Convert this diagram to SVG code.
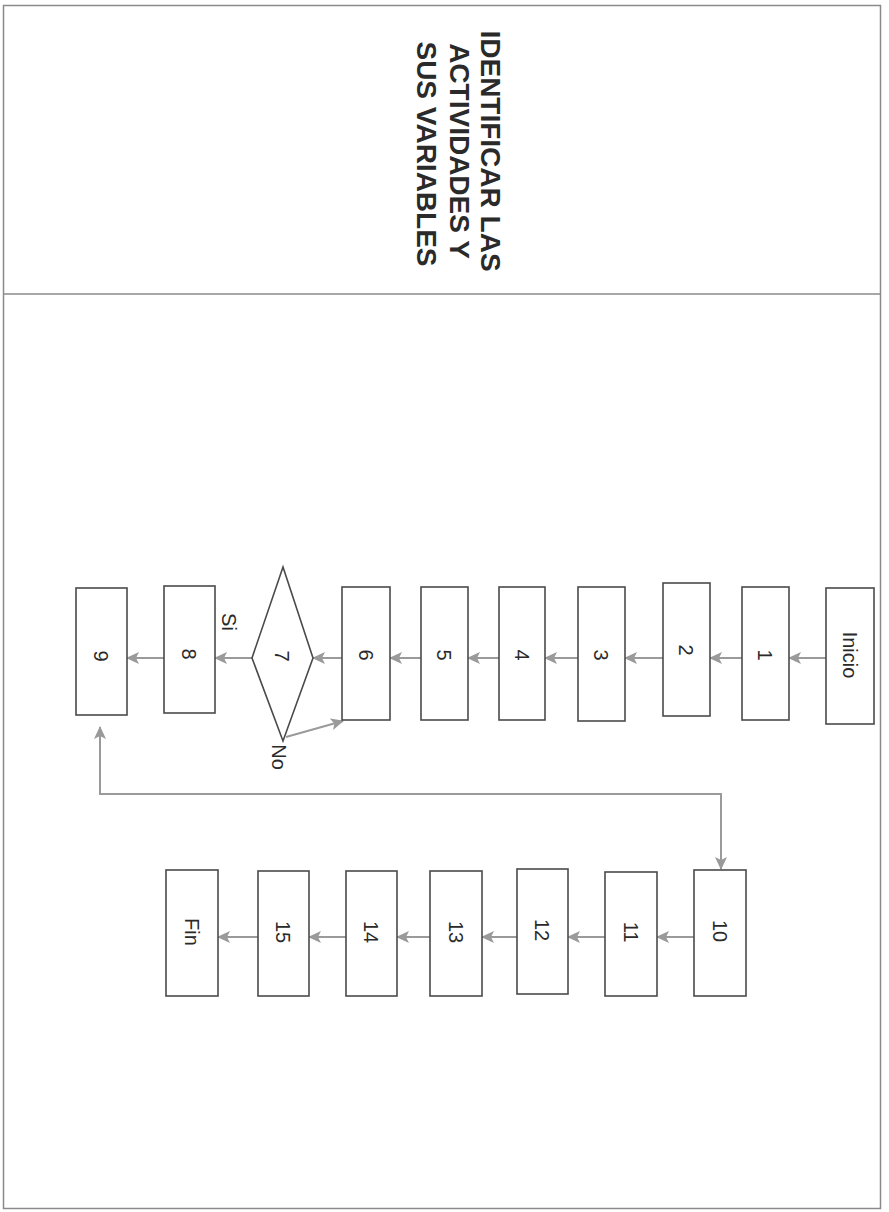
<svg xmlns="http://www.w3.org/2000/svg" width="889" height="1212" viewBox="0 0 889 1212">
<defs>
<marker id="ah" viewBox="0 0 13 12" refX="12" refY="6" markerWidth="13" markerHeight="12" markerUnits="userSpaceOnUse" orient="auto-start-reverse">
<path d="M0,0 L13,6 L0,12 L3,6 Z" fill="#9a9a9a"/>
</marker>
<style>
.frame{fill:none;stroke:#8a8a8a;stroke-width:1.5}
.box{fill:#ffffff;stroke:#4a4a4a;stroke-width:1.6}
.lbl{font-family:"Liberation Sans",Arial,sans-serif;font-size:20px;fill:#2a2a2a;text-anchor:middle;dominant-baseline:central}
.title{font-family:"Liberation Sans",Arial,sans-serif;font-size:28px;font-weight:bold;fill:#2a2a2a;text-anchor:middle}
.con{fill:none;stroke:#9a9a9a;stroke-width:2;marker-end:url(#ah)}
</style>
</defs>
<rect width="889" height="1212" fill="#ffffff"/>
<g id="frame">
<rect class="frame" x="3.5" y="5.5" width="877" height="1203"/>
<line class="frame" x1="3.5" y1="294" x2="880.5" y2="294"/>
</g>
<g id="title">
<text class="title" transform="translate(481,151) rotate(90)">IDENTIFICAR LAS</text>
<text class="title" transform="translate(450,151) rotate(90)">ACTIVIDADES Y</text>
<text class="title" transform="translate(417,154) rotate(90)">SUS VARIABLES</text>
</g>
<g id="connectors">
<line class="con" x1="826" y1="658" x2="789" y2="658"/>
<line class="con" x1="742" y1="658" x2="710" y2="658"/>
<line class="con" x1="663" y1="658" x2="625" y2="658"/>
<line class="con" x1="578" y1="658" x2="545" y2="658"/>
<line class="con" x1="499" y1="658" x2="468" y2="658"/>
<line class="con" x1="421" y1="658" x2="390" y2="658"/>
<line class="con" x1="342" y1="658" x2="313" y2="658"/>
<line class="con" x1="252" y1="658" x2="215" y2="658"/>
<line class="con" x1="164" y1="658" x2="127" y2="658"/>
<line class="con" x1="286" y1="737" x2="343" y2="721"/>
<path class="con" style="marker-start:url(#ah)" d="M100,727 L100,794 L721,794 L721,869"/>
<line class="con" x1="694" y1="937" x2="657" y2="937"/>
<line class="con" x1="605" y1="937" x2="568" y2="937"/>
<line class="con" x1="517" y1="937" x2="482" y2="937"/>
<line class="con" x1="430" y1="937" x2="397" y2="937"/>
<line class="con" x1="346" y1="937" x2="309" y2="937"/>
<line class="con" x1="258" y1="937" x2="218" y2="937"/>
</g>
<g id="n-inicio"><rect class="box" x="826" y="588" width="48" height="136"/><text class="lbl" transform="translate(850,655) rotate(90)">Inicio</text></g>
<g id="n1"><rect class="box" x="742" y="587" width="47" height="133"/><text class="lbl" transform="translate(765,655) rotate(90)">1</text></g>
<g id="n2"><rect class="box" x="663" y="583" width="47" height="133"/><text class="lbl" transform="translate(686,650) rotate(90)">2</text></g>
<g id="n3"><rect class="box" x="578" y="587" width="47" height="134"/><text class="lbl" transform="translate(601,655) rotate(90)">3</text></g>
<g id="n4"><rect class="box" x="499" y="587" width="46" height="133"/><text class="lbl" transform="translate(522,655) rotate(90)">4</text></g>
<g id="n5"><rect class="box" x="421" y="587" width="47" height="133"/><text class="lbl" transform="translate(444,655) rotate(90)">5</text></g>
<g id="n6"><rect class="box" x="342" y="587" width="48" height="133"/><text class="lbl" transform="translate(366,655) rotate(90)">6</text></g>
<g id="n7"><polygon class="box" points="283,567 313,658 283,741 252,658"/><text class="lbl" transform="translate(282,656) rotate(90)">7</text></g>
<g id="n8"><rect class="box" x="164" y="586" width="51" height="127"/><text class="lbl" transform="translate(189,654) rotate(90)">8</text></g>
<g id="n9"><rect class="box" x="76" y="588" width="51" height="127"/><text class="lbl" transform="translate(101,656) rotate(90)">9</text></g>
<g id="lbl-si"><text class="lbl" transform="translate(229,622) rotate(90)">Si</text></g>
<g id="lbl-no"><text class="lbl" transform="translate(279,757) rotate(90)">No</text></g>
<g id="n10"><rect class="box" x="694" y="870" width="52" height="126"/><text class="lbl" transform="translate(720,931) rotate(90)">10</text></g>
<g id="n11"><rect class="box" x="605" y="872" width="52" height="124"/><text class="lbl" transform="translate(631,932) rotate(90)">11</text></g>
<g id="n12"><rect class="box" x="517" y="869" width="51" height="125"/><text class="lbl" transform="translate(542,930) rotate(90)">12</text></g>
<g id="n13"><rect class="box" x="430" y="871" width="52" height="125"/><text class="lbl" transform="translate(456,932) rotate(90)">13</text></g>
<g id="n14"><rect class="box" x="346" y="871" width="51" height="125"/><text class="lbl" transform="translate(371,932) rotate(90)">14</text></g>
<g id="n15"><rect class="box" x="258" y="871" width="51" height="125"/><text class="lbl" transform="translate(283,932) rotate(90)">15</text></g>
<g id="n-fin"><rect class="box" x="166" y="870" width="52" height="126"/><text class="lbl" transform="translate(192,932) rotate(90)">Fin</text></g>
</svg>
